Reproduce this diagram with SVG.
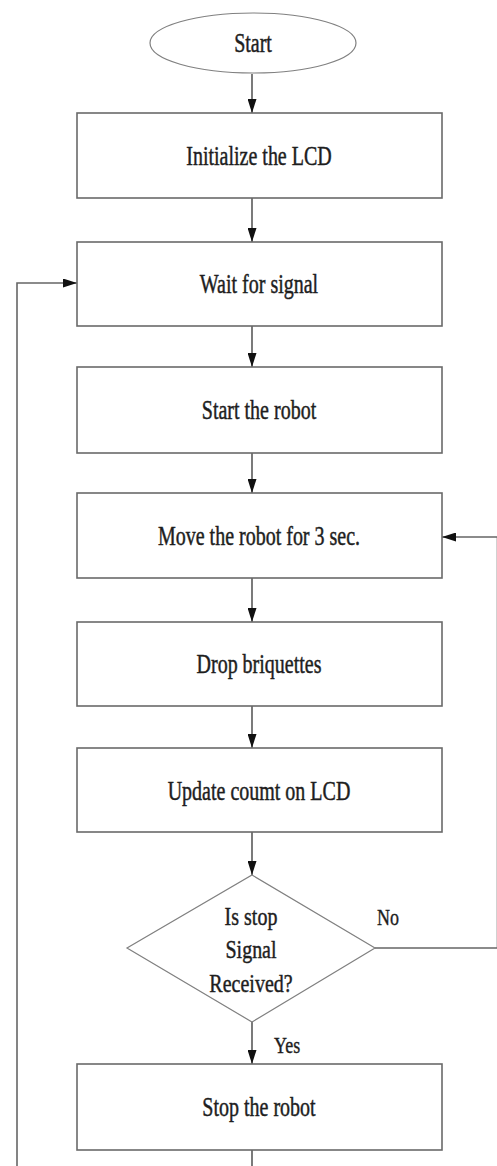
<svg xmlns="http://www.w3.org/2000/svg" width="497" height="1166" viewBox="0 0 497 1166">
<defs>
<marker id="ah" markerWidth="14" markerHeight="9" refX="14" refY="4.5" orient="auto" markerUnits="userSpaceOnUse" viewBox="0 0 14 9">
<path d="M0,0 L14,4.5 L0,9 Z" fill="#111"/>
</marker>
<style>
.box{fill:#fff;stroke:#6a6a6a;stroke-width:1.6}
.thin{fill:#fff;stroke:#808080;stroke-width:1.2}
.lbl{font-family:"Liberation Serif","Times New Roman","DejaVu Serif",serif;font-size:20px;fill:#1e1e1e;stroke:#1e1e1e;stroke-width:0.35;text-anchor:middle}
.sm{font-family:"Liberation Serif","Times New Roman","DejaVu Serif",serif;font-size:18px;fill:#1e1e1e;stroke:#1e1e1e;stroke-width:0.3}
.con{fill:none;stroke:#222;stroke-width:1.2}
.loop{fill:none;stroke:#666;stroke-width:1.6}
</style>
</defs>
<rect width="497" height="1166" fill="#fff"/>
<g id="connectors">
<line class="con" x1="252" y1="74" x2="252" y2="113" marker-end="url(#ah)"/>
<line class="con" x1="252" y1="198" x2="252" y2="242" marker-end="url(#ah)"/>
<line class="con" x1="252" y1="326" x2="252" y2="367" marker-end="url(#ah)"/>
<line class="con" x1="252" y1="453" x2="252" y2="493" marker-end="url(#ah)"/>
<line class="con" x1="252" y1="578" x2="252" y2="622" marker-end="url(#ah)"/>
<line class="con" x1="252" y1="706" x2="252" y2="748" marker-end="url(#ah)"/>
<line class="con" x1="252" y1="832" x2="252" y2="875" marker-end="url(#ah)"/>
<line class="con" x1="252" y1="1022" x2="252" y2="1064" marker-end="url(#ah)"/>
<line class="con" x1="252" y1="1150" x2="252" y2="1166"/>
<path class="loop" d="M17,1166 L17,283 L77,283" marker-end="url(#ah)"/>
<path class="loop" d="M375,948 L497.5,948 L497.5,537 L442,537" marker-end="url(#ah)"/>
<text class="sm" transform="translate(377 925) scale(1 1.3)">No</text>
<text class="sm" transform="translate(274 1053) scale(1 1.3)">Yes</text>
</g>
<g id="start">
<ellipse class="thin" cx="253" cy="43" rx="103" ry="30"/>
<text class="lbl" transform="translate(253 52) scale(1 1.35)">Start</text>
</g>
<g id="init">
<rect class="box" x="77" y="113" width="365" height="85"/>
<text class="lbl" transform="translate(259 165) scale(1 1.35)">Initialize the LCD</text>
</g>
<g id="wait">
<rect class="box" x="77" y="242" width="365" height="84"/>
<text class="lbl" transform="translate(259 293) scale(1 1.35)">Wait for signal</text>
</g>
<g id="startrobot">
<rect class="box" x="77" y="367" width="365" height="86"/>
<text class="lbl" transform="translate(259 419) scale(1 1.35)">Start the robot</text>
</g>
<g id="move">
<rect class="box" x="77" y="493" width="365" height="85"/>
<text class="lbl" transform="translate(259 545) scale(1 1.35)">Move the robot for 3 sec.</text>
</g>
<g id="drop">
<rect class="box" x="77" y="622" width="365" height="84"/>
<text class="lbl" transform="translate(259 673) scale(1 1.35)">Drop briquettes</text>
</g>
<g id="update">
<rect class="box" x="77" y="748" width="365" height="84"/>
<text class="lbl" transform="translate(259 800) scale(1 1.35)">Update coumt on LCD</text>
</g>
<g id="decision">
<polygon class="thin" points="252,875 375,948 252,1022 127,948"/>
<text class="lbl" transform="translate(251 925) scale(1 1.3)">Is stop</text>
<text class="lbl" transform="translate(251 958) scale(1 1.3)">Signal</text>
<text class="lbl" transform="translate(251 992) scale(1 1.3)">Received?</text>
</g>
<g id="stop">
<rect class="box" x="77" y="1064" width="365" height="86"/>
<text class="lbl" transform="translate(259 1116) scale(1 1.35)">Stop the robot</text>
</g>
</svg>
